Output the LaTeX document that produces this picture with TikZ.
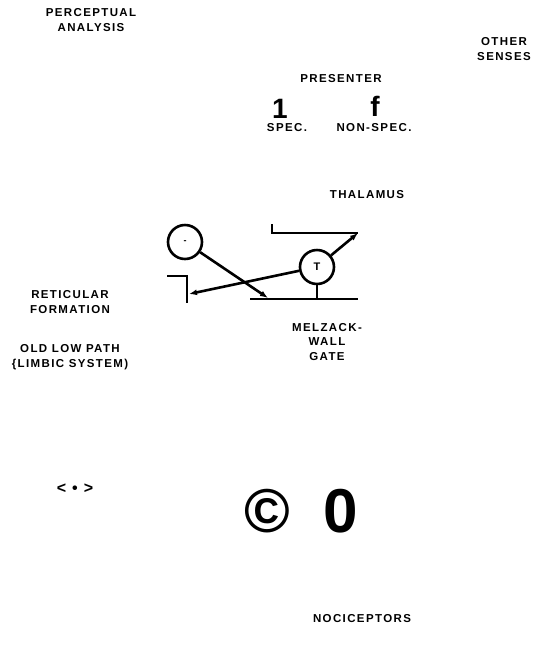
\documentclass[tikz,border=0pt]{standalone}
\usepackage{fontspec}
\setmainfont{Liberation Sans}
\newfontfamily\labfont[LetterSpace=12]{Liberation Sans}
\usetikzlibrary{arrows.meta,positioning}

\begin{document}
\begin{tikzpicture}[x=1pt,y=-1pt,>={Latex[length=8pt,width=6pt]},
  lbl/.style={font=\labfont\bfseries\fontsize{11.5}{14.5}\selectfont,align=center,inner sep=0pt},
  big/.style={font=\bfseries\fontsize{#1}{#1}\selectfont,inner sep=0pt},
  cell/.style={draw,circle,line width=2.6pt,minimum size=34pt,inner sep=0pt},
  wire/.style={line width=2.6pt}]
\useasboundingbox (0,0) rectangle (534,649);
% labels
\node[lbl] (perc) at (91,20) {PERCEPTUAL\\ANALYSIS};
\node[lbl] (other) at (504,49) {OTHER\\SENSES};
\node[lbl] (pres) at (341,79) {PRESENTER};
\node[big=28] (one) at (280,109) {1};
\node[big=28] (eff) at (375,106) {f};
\node[lbl] (spec) at (287,128) {SPEC.};
\node[lbl] (nspec) at (374,128) {NON-SPEC.};
\node[lbl] (thal) at (367,195) {THALAMUS};
\node[lbl] (ret) at (70,302) {RETICULAR\\FORMATION};
\node[lbl] (old) at (70,357) {OLD LOW PATH\\\{LIMBIC SYSTEM)};
\node[lbl] (gate) at (327,342) {MELZACK-\\WALL\\GATE};
\node[big=16] (sym) at (75,489) {<\hspace{6pt}\textbullet\hspace{6pt}>};
\node[big=62] (copy) at (267,511) {\textcopyright};
\node[big=62] (zero) at (341,511) {0};
\node[lbl] (noci) at (362,619) {NOCICEPTORS};
% cells
\node[cell] (lc) at (185,242) {\fontsize{9}{9}\selectfont\bfseries -};
\node[cell] (tc) at (317,267) {\fontsize{11}{11}\selectfont\bfseries T};
\coordinate (g1) at (268,298);
\coordinate (g2) at (189,294);
\coordinate (g3) at (358,233);
\coordinate (g4) at (317,299);
% walls
\draw[wire] (250,299) -- (358,299);
\draw[wire] (272,224) -- (272,233) -- (358,233);
\draw[wire] (167,276) -- (187,276) -- (187,303);
% paths
\draw[wire,->] (lc) -- (g1);
\draw[wire,->] (tc) -- (g2);
\draw[wire,->] (tc) -- (g3);
\draw[wire] (tc) -- (g4);
\end{tikzpicture}
\end{document}
